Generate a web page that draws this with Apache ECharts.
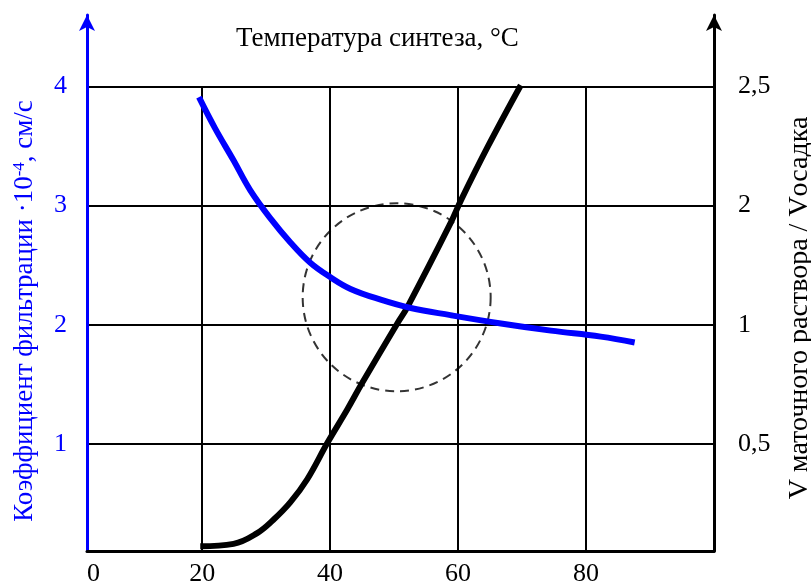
<!DOCTYPE html>
<html>
<head>
<meta charset="utf-8">
<script src="https://cdn.jsdelivr.net/npm/echarts@6/dist/echarts.min.js"></script>
<style>
  html, body { margin: 0; padding: 0; background: #fff; }
  #chart { width: 811px; height: 583px; }
</style>
</head>
<body>
<div id="chart"></div>
<script>
// температура синтеза, °C
var xTicks = [20, 40, 60, 80]
var yTicks = [1, 2, 3, 4]
// подписи правой оси стоят на тех же уровнях, что 1..4 левой
var rightTickLabels = ['0,5', '1', '2', '2,5']

// коэффициент фильтрации (синяя кривая)
var filtrX = [19.5, 22.0, 24.9, 27.5, 30.7, 33.8, 36.9, 40.0, 43.2, 47.9, 52.6, 58.8, 66.7, 74.5, 82.3, 87.6]
var filtrY = [3.91, 3.65, 3.38, 3.13, 2.89, 2.69, 2.52, 2.40, 2.30, 2.21, 2.14, 2.08, 2.01, 1.95, 1.90, 1.85]

// V маточного раствора / V осадка (чёрная кривая), в делениях правой оси
var ratioX = [19.7, 24.9, 28.6, 31.1, 33.8, 36.4, 39.6, 42.7, 45.0, 50.5, 52.1, 58.8, 60.5, 64.6, 69.8]
var ratioY = [0.14, 0.16, 0.25, 0.36, 0.51, 0.70, 1.01, 1.29, 1.51, 2.01, 2.15, 2.85, 3.05, 3.49, 4.01]

// выделенная область (пунктирный круг)
var zoneCenter = [50.4, 2.23]

var serif = 'Liberation Serif'
var X_MIN = 2, Y_MIN = 0.1, Y_MAX = 4.6

function pairs(xs, ys) {
  return xs.map(function (x, i) { return [x, ys[i]] })
}

var chart = echarts.init(document.getElementById('chart'))

var option = {
  animation: false,
  backgroundColor: '#fff',
  title: {
    text: 'Температура синтеза, °C',
    left: 231,
    top: 20,
    textStyle: { fontFamily: serif, fontSize: 27, fontWeight: 'normal', color: '#000' }
  },
  grid: { left: 87, right: 97, top: 15, bottom: 32, outerBoundsMode: 'none', containLabel: false },
  xAxis: {
    type: 'value',
    min: X_MIN,
    max: 100,
    axisLine: { show: true, lineStyle: { color: '#000', width: 3 } },
    axisTick: { show: false },
    splitLine: { show: false },
    axisLabel: {
      customValues: [X_MIN].concat(xTicks),
      alignMinLabel: 'left',
      formatter: function (v) { return v === X_MIN ? '0' : String(v) },
      fontFamily: serif, fontSize: 26, color: '#000', margin: 10
    }
  },
  yAxis: [
    {
      type: 'value',
      position: 'left',
      min: Y_MIN,
      max: Y_MAX,
      axisLine: {
        show: true,
        symbol: ['none', 'arrow'],
        symbolSize: [12, 16],
        lineStyle: { color: '#0000ff', width: 3 }
      },
      axisTick: { show: false, customValues: yTicks },
      axisLabel: {
        customValues: yTicks,
        fontFamily: serif, fontSize: 26, color: '#0000ff', margin: 20
      },
      splitLine: { show: true, lineStyle: { color: '#000', width: 2 } },
      name: 'Коэффициент фильтрации ·10{sup|-4}, см/с',
      nameLocation: 'middle',
      nameRotate: 90,
      nameGap: 49,
      nameTextStyle: {
        fontFamily: serif, fontSize: 27, color: '#0000ff',
        padding: [0, 56, 0, 0],
        rich: { sup: { fontFamily: serif, fontSize: 17, color: '#0000ff', verticalAlign: 'top' } }
      }
    },
    {
      type: 'value',
      position: 'right',
      min: Y_MIN,
      max: Y_MAX,
      axisLine: {
        show: true,
        symbol: ['none', 'arrow'],
        symbolSize: [12, 16],
        lineStyle: { color: '#000', width: 3 }
      },
      axisTick: { show: false },
      splitLine: { show: false },
      axisLabel: {
        customValues: yTicks,
        formatter: function (v) { return rightTickLabels[yTicks.indexOf(v)] },
        fontFamily: serif, fontSize: 26, color: '#000', margin: 24
      },
      name: 'V маточного раствора / Vосадка',
      nameLocation: 'middle',
      nameRotate: 90,
      nameGap: 72,
      nameTextStyle: {
        fontFamily: serif, fontSize: 28, color: '#000',
        padding: [0, 50, 0, 0]
      }
    }
  ],
  series: [
    {
      // вертикальные линии сетки до уровня 4
      name: 'grid',
      type: 'line',
      data: [],
      silent: true,
      markLine: {
        silent: true,
        symbol: ['none', 'none'],
        label: { show: false },
        lineStyle: { color: '#000', width: 2, type: 'solid' },
        data: xTicks.map(function (x) {
          return [{ coord: [x, Y_MIN] }, { coord: [x, yTicks[yTicks.length - 1]] }]
        })
      }
    },
    {
      name: 'zone',
      type: 'scatter',
      data: [zoneCenter],
      symbol: 'circle',
      symbolSize: 188,
      silent: true,
      itemStyle: { color: 'rgba(0,0,0,0)', borderColor: '#000', borderWidth: 2, borderType: [9, 6] },
      z: 3
    },
    {
      name: 'ratio',
      type: 'line',
      yAxisIndex: 1,
      data: pairs(ratioX, ratioY),
      smooth: 0.4,
      symbol: 'none',
      lineStyle: { color: '#000', width: 6 },
      z: 4
    },
    {
      name: 'filtr',
      type: 'line',
      yAxisIndex: 0,
      data: pairs(filtrX, filtrY),
      smooth: 0.4,
      symbol: 'none',
      lineStyle: { color: '#0000ff', width: 6 },
      z: 5
    }
  ]
}

chart.setOption(option)
</script>
</body>
</html>
